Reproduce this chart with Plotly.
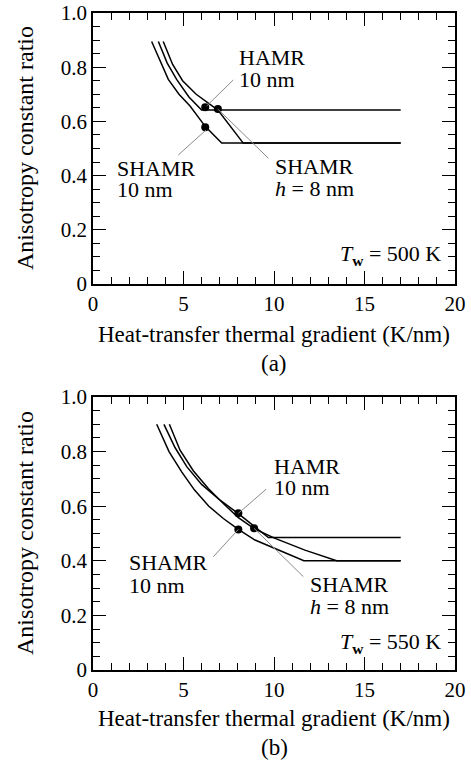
import plotly.graph_objects as go

# ---------------- data: panel (a)  Tw = 500 K ----------------
a_shamr10_x = [3.24, 3.7, 4.16, 4.75, 5.36, 6.22, 7.11, 17]
a_shamr10_y = [0.895, 0.825, 0.755, 0.70, 0.657, 0.58, 0.52, 0.52]
a_hamr10_x = [3.61, 4.1, 4.62, 5.3, 6.0, 17]
a_hamr10_y = [0.895, 0.815, 0.755, 0.69, 0.642, 0.642]
a_shamr8_x = [3.88, 4.4, 4.95, 5.7, 6.9, 7.6, 8.3, 17]
a_shamr8_y = [0.895, 0.81, 0.75, 0.70, 0.642, 0.58, 0.52, 0.52]
a_dots_x = [6.2, 6.9, 6.2]
a_dots_y = [0.652, 0.646, 0.578]
a_lead_x0 = [6.28, 6.24, 6.89]
a_lead_y0 = [0.657, 0.568, 0.646]
a_lead_x1 = [7.75, 4.71, 9.69]
a_lead_y1 = [0.753, 0.476, 0.464]

# ---------------- data: panel (b)  Tw = 550 K ----------------
b_shamr10_x = [3.52, 4.2, 4.9, 5.6, 6.4, 7.2, 8.03, 8.95, 11.65, 17]
b_shamr10_y = [0.9, 0.8, 0.726, 0.66, 0.6, 0.555, 0.515, 0.476, 0.40, 0.40]
b_hamr10_x = [3.92, 4.53, 5.18, 6.0, 7.02, 8.03, 9.69, 17]
b_hamr10_y = [0.9, 0.815, 0.745, 0.68, 0.622, 0.573, 0.485, 0.485]
b_shamr8_x = [4.22, 4.81, 5.54, 6.37, 7.2, 8.03, 8.9, 10.06, 11.71, 13.46, 17]
b_shamr8_y = [0.9, 0.805, 0.73, 0.665, 0.61, 0.558, 0.518, 0.482, 0.439, 0.40, 0.40]
b_dots_x = [8.03, 8.9, 8.03]
b_dots_y = [0.574, 0.519, 0.515]
b_lead_x0 = [8.03, 8.9, 8.03]
b_lead_y0 = [0.574, 0.519, 0.515]
b_lead_x1 = [9.56, 11.62, 6.65]
b_lead_y1 = [0.662, 0.342, 0.415]

x_ticks = [0, 5, 10, 15, 20]
x_ticktext = ["0", "5", "10", "15", "20"]
y_ticks = [0, 0.2, 0.4, 0.6, 0.8, 1.0]
y_ticktext = ["0", "0.2", "0.4", "0.6", "0.8", "1.0"]

x_title = "Heat-transfer thermal gradient (K/nm)"
y_title = "Anisotropy constant ratio"

FONT = "'Times New Roman', 'Liberation Serif', 'DejaVu Serif', serif"

fig = go.Figure()

line_style = dict(color="black", width=1.5)
panels = [
    ("x", "y", [(a_shamr10_x, a_shamr10_y), (a_hamr10_x, a_hamr10_y), (a_shamr8_x, a_shamr8_y)],
     a_dots_x, a_dots_y, (a_lead_x0, a_lead_y0, a_lead_x1, a_lead_y1)),
    ("x2", "y2", [(b_shamr10_x, b_shamr10_y), (b_hamr10_x, b_hamr10_y), (b_shamr8_x, b_shamr8_y)],
     b_dots_x, b_dots_y, (b_lead_x0, b_lead_y0, b_lead_x1, b_lead_y1)),
]
names = ["SHAMR 10 nm", "HAMR 10 nm", "SHAMR h = 8 nm"]
shapes = []
for xa, ya, curves, dx, dy, leads in panels:
    for (cx, cy), nm in zip(curves, names):
        fig.add_trace(go.Scatter(x=cx, y=cy, mode="lines", line=line_style,
                                 xaxis=xa, yaxis=ya, name=nm, showlegend=False))
    lx0, ly0, lx1, ly1 = leads
    for i in range(len(lx0)):
        shapes.append(dict(type="line", xref=xa, yref=ya, x0=lx0[i], y0=ly0[i],
                           x1=lx1[i], y1=ly1[i], line=dict(color="#8a8a8a", width=1)))
    fig.add_trace(go.Scatter(x=dx, y=dy, mode="markers",
                             marker=dict(color="black", size=8),
                             xaxis=xa, yaxis=ya, showlegend=False))

axis_common = dict(
    showline=True, linecolor="black", linewidth=1.5, mirror="ticks",
    ticks="inside", ticklen=13, tickwidth=1.3, tickcolor="black",
    showgrid=False, zeroline=False, automargin=False, ticklabeloverflow="allow",
    tickfont=dict(family=FONT, size=21, color="black"),
)
xcommon = dict(axis_common, range=[0, 20], tickvals=x_ticks, ticktext=x_ticktext,
               minor=dict(dtick=1, tick0=0, ticks="inside", ticklen=7, tickwidth=1.3,
                          tickcolor="black", showgrid=False))
ycommon = dict(axis_common, range=[0, 1], tickvals=y_ticks, ticktext=y_ticktext,
               minor=dict(dtick=0.05, tick0=0, ticks="inside", ticklen=7, tickwidth=1.3,
                          tickcolor="black", showgrid=False))

top_dom = [0.5875, 1.0]
bot_dom = [0.0, 0.4155]

fig.update_layout(
    template="none",
    width=471, height=765,
    margin=dict(l=93, r=16, t=13, b=95),
    paper_bgcolor="white", plot_bgcolor="white",
    font=dict(family=FONT, size=22, color="black"),
    xaxis=dict(xcommon, domain=[0, 1], anchor="y"),
    yaxis=dict(ycommon, domain=top_dom, anchor="x"),
    xaxis2=dict(xcommon, domain=[0, 1], anchor="y2"),
    yaxis2=dict(ycommon, domain=bot_dom, anchor="x2"),
    shapes=shapes,
    hovermode=False,
)

ann = []
def txt(text, x, y, xref, yref, xanchor="left", size=22, angle=0):
    ann.append(dict(text=text, x=x, y=y, xref=xref, yref=yref, xanchor=xanchor,
                    yanchor="middle", showarrow=False, textangle=angle,
                    font=dict(family=FONT, size=size, color="black")))

# panel (a) labels
txt("HAMR", 7.94, 0.834, "x", "y")
txt("10 nm", 7.94, 0.753, "x", "y")
txt("SHAMR", 1.22, 0.428, "x", "y")
txt("10 nm", 1.22, 0.347, "x", "y")
txt("SHAMR", 9.94, 0.435, "x", "y")
txt("<i>h</i> = 8 nm", 9.94, 0.354, "x", "y")
txt("<i>T</i><sub><b>w</b></sub> = 500 K", 19.34, 0.107, "x", "y", xanchor="right")
# panel (b) labels
txt("HAMR", 9.87, 0.747, "x2", "y2")
txt("10 nm", 9.87, 0.667, "x2", "y2")
txt("SHAMR", 1.88, 0.392, "x2", "y2")
txt("10 nm", 1.88, 0.311, "x2", "y2")
txt("SHAMR", 11.88, 0.315, "x2", "y2")
txt("<i>h</i> = 8 nm", 11.88, 0.231, "x2", "y2")
txt("<i>T</i><sub><b>w</b></sub> = 550 K", 19.34, 0.099, "x2", "y2", xanchor="right")

# axis titles and panel captions
txt(y_title, -0.188, 0.7945, "paper", "paper", xanchor="center", size=24, angle=-90)
txt(y_title, -0.188, 0.2085, "paper", "paper", xanchor="center", size=24, angle=-90)
txt(x_title, 0.5, 0.5099, "paper", "paper", xanchor="center", size=23)
txt(x_title, 0.5, -0.0745, "paper", "paper", xanchor="center", size=23)
txt("(a)", 0.5, 0.4658, "paper", "paper", xanchor="center", size=23)
txt("(b)", 0.5, -0.118, "paper", "paper", xanchor="center", size=23)

fig.update_layout(annotations=ann)
fig.write_html(
    "out.html",
    config={"displayModeBar": False},
    post_script="document.body.style.margin='0';document.body.style.overflow='hidden';",
)
